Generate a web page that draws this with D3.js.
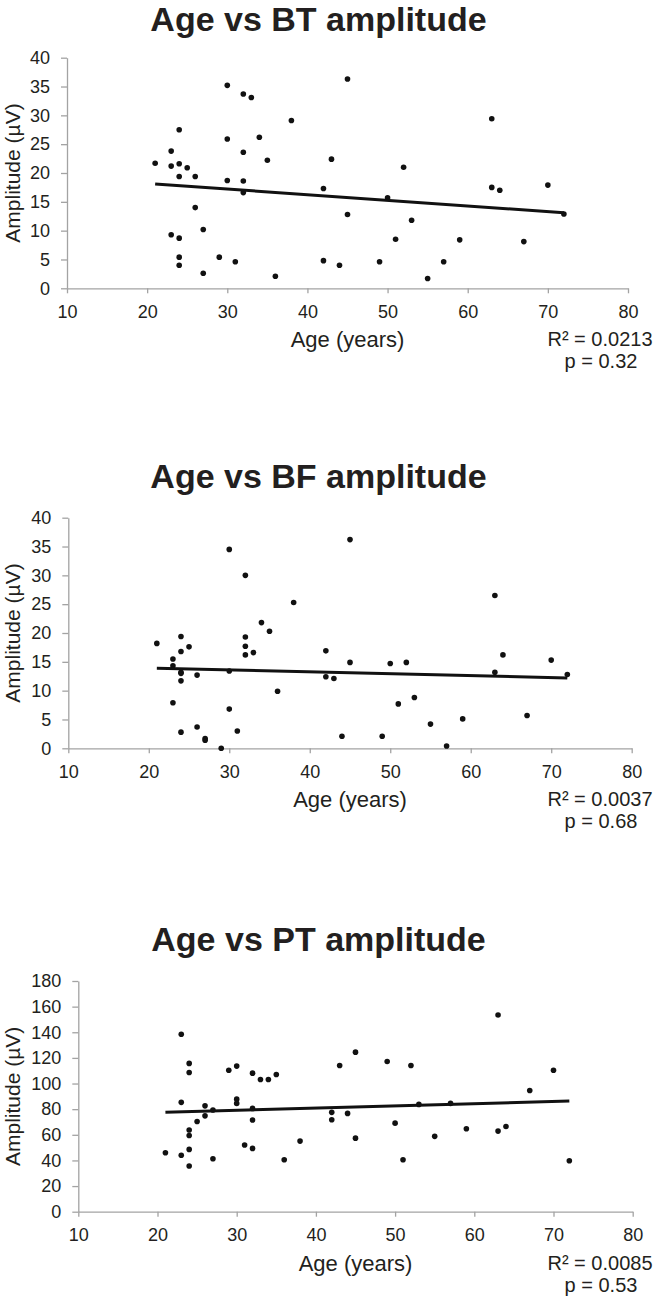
<!DOCTYPE html>
<html><head><meta charset="utf-8">
<script src="https://cdn.jsdelivr.net/npm/d3@7"></script>
<style>
html,body{margin:0;padding:0;background:#fff;}
svg{display:block;font-family:"Liberation Sans",Arial,sans-serif;}
</style></head>
<body>
<svg id="c" width="658" height="1301"></svg>
<script>
// ---- data ----
const titles = ["Age vs BT amplitude", "Age vs BF amplitude", "Age vs PT amplitude"];
const xTicks = [10, 20, 30, 40, 50, 60, 70, 80];
const yTicksSmall = [0, 5, 10, 15, 20, 25, 30, 35, 40];
const yTicksPT = [0, 20, 40, 60, 80, 100, 120, 140, 160, 180];
const rSquared = ["R² = 0.0213", "R² = 0.0037", "R² = 0.0085"];
const pValues = ["p = 0.32", "p = 0.68", "p = 0.53"];

const btAge = [21,23,23,23,24,24,24,24,24,24,25,26,26,27,27,29,30,30,30,31,32,32,32,32,33,34,35,36,38,42,42,43,44,45,45,49,50,51,52,53,55,57,59,63,63,64,67,70,72];
const btAmp = [21.7,23.8,21.2,9.3,27.5,21.6,19.4,8.7,5.4,4.0,20.9,19.4,14.0,10.2,2.6,5.4,35.2,25.9,18.7,4.6,33.7,23.6,18.6,16.6,33.1,26.2,22.2,2.1,29.1,17.3,4.8,22.4,4.0,36.3,12.8,4.6,15.7,8.5,21.0,11.8,1.7,4.6,8.4,29.4,17.5,17.0,8.1,17.9,12.9];

const bfAge = [21,23,23,23,24,24,24,24,24,24,25,26,26,27,27,29,30,30,30,31,32,32,32,32,33,34,35,36,38,42,42,43,44,45,45,49,50,51,52,53,55,57,59,63,63,64,67,70,72];
const bfAmp = [18.2,15.5,14.3,7.9,19.4,16.8,13.2,11.7,2.8,13.0,17.6,12.7,3.7,1.4,1.7,0.0,34.5,13.4,6.8,3.0,30.0,19.3,17.7,16.2,16.6,21.8,20.3,9.9,25.3,16.9,12.4,12.1,2.1,36.2,14.9,2.1,14.7,7.7,14.9,8.8,4.2,0.4,5.1,26.5,13.2,16.2,5.7,15.3,12.8];

const ptAge = [21,23,23,23,24,24,24,24,24,24,25,26,26,27,27,29,30,30,30,31,32,32,32,32,33,34,35,36,38,42,42,43,44,45,45,49,50,51,52,53,55,57,59,63,63,64,67,70,72];
const ptAmp = [46.0,138.5,85.3,44.0,115.7,108.6,63.7,59.5,48.6,35.6,70.4,82.6,74.8,79.3,41.3,110.4,113.6,87.8,84.5,52.0,108.1,80.6,71.5,49.4,103.2,103.2,107.1,40.5,55.1,77.5,71.7,114.1,76.7,124.5,57.4,117.2,69.1,40.5,114.1,83.7,58.8,84.5,64.7,153.5,62.9,66.5,94.6,110.4,39.8];

// trend lines: [age, amplitude] at both ends
const btTrend = [[21, 18.1], [72, 13.1]];
const bfTrend = [[21, 13.9], [72, 12.2]];
const ptTrend = [[21, 77.5], [72, 86.4]];

// ---- layout ----
const panels = [
  {age: btAge, amp: btAmp, trend: btTrend, yTicks: yTicksSmall, yMax: 40,
   left: 67, right: 628, top: 57.7, bottom: 288.3},
  {age: bfAge, amp: bfAmp, trend: bfTrend, yTicks: yTicksSmall, yMax: 40,
   left: 68.3, right: 631.7, top: 517.7, bottom: 748.3},
  {age: ptAge, amp: ptAmp, trend: ptTrend, yTicks: yTicksPT, yMax: 180,
   left: 78.3, right: 632.7, top: 981, bottom: 1211.7}
];

const svg = d3.select("#c");
const textCol = "#231f20";
const axisCol = "#a3a3a3";

panels.forEach((p, i) => {
  const x = d3.scaleLinear().domain([10, 80]).range([p.left, p.right]);
  const y = d3.scaleLinear().domain([0, p.yMax]).range([p.bottom, p.top]);
  const g = svg.append("g");

  // title
  g.append("text").attr("x", 318.5).attr("y", Math.max(p.top - 30, 31))
    .attr("text-anchor", "middle").attr("font-size", 34).attr("font-weight", "bold")
    .attr("fill", textCol).text(titles[i]);

  // x axis
  const xa = g.append("g").attr("transform", `translate(0,${p.bottom})`)
    .call(d3.axisBottom(x).tickValues(xTicks).tickSize(5).tickSizeOuter(0).tickPadding(12));
  // y axis
  const ya = g.append("g").attr("transform", `translate(${p.left},0)`)
    .call(d3.axisLeft(y).tickValues(p.yTicks).tickSize(6).tickSizeOuter(0).tickPadding(11));
  [xa, ya].forEach(a => {
    a.select(".domain").attr("stroke", axisCol).attr("stroke-width", 1.3);
    a.selectAll(".tick line").attr("stroke", axisCol).attr("stroke-width", 1.3);
    a.selectAll(".tick text").attr("fill", textCol).attr("font-size", 18)
      .attr("font-family", "Liberation Sans, Arial, sans-serif");
  });

  // axis titles
  g.append("text").attr("x", (p.left + p.right) / 2).attr("y", p.bottom + 59)
    .attr("text-anchor", "middle").attr("font-size", 22).attr("fill", textCol).text("Age (years)");
  g.append("text").attr("transform", `translate(20,${(p.top + p.bottom) / 2}) rotate(-90)`)
    .attr("text-anchor", "middle").attr("font-size", 21).attr("fill", textCol).text("Amplitude (µV)");

  // R² and p
  g.append("text").attr("x", 600).attr("y", p.bottom + 58)
    .attr("text-anchor", "middle").attr("font-size", 20).attr("fill", textCol).text(rSquared[i]);
  g.append("text").attr("x", 601).attr("y", p.bottom + 80)
    .attr("text-anchor", "middle").attr("font-size", 20).attr("fill", textCol).text(pValues[i]);

  // points
  g.append("g").selectAll("circle").data(p.age.map((a, k) => [a, p.amp[k]]))
    .join("circle").attr("cx", d => x(d[0])).attr("cy", d => y(d[1]))
    .attr("r", 2.8).attr("fill", "#111");

  // trend line
  g.append("path").attr("d", d3.line().x(d => x(d[0])).y(d => y(d[1]))(p.trend))
    .attr("stroke", "#111").attr("stroke-width", 3).attr("fill", "none");
});
</script>
</body></html>
